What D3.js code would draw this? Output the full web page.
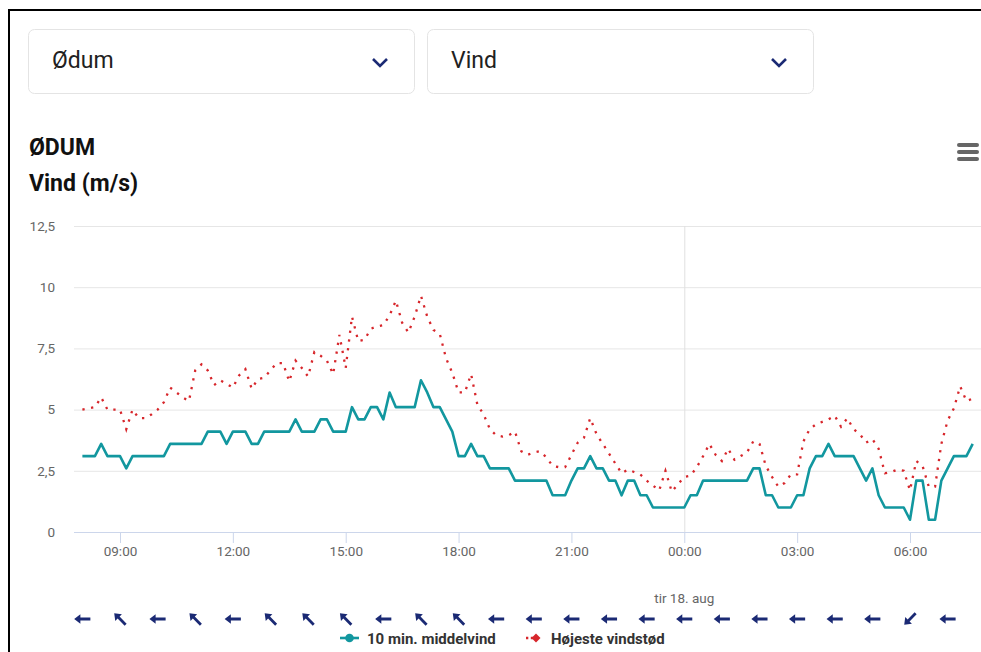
<!DOCTYPE html>
<html>
<head>
<meta charset="utf-8">
<script src="https://cdn.jsdelivr.net/npm/d3@7"></script>
<style>
  body { margin: 0; background: #fff; font-family: Roboto, "Noto Sans", sans-serif; }
</style>
</head>
<body>
<svg width="981" height="652"></svg>
<script>
// 10 min. middelvind, m/s, every 10 minutes from 08:00
const meanWind = [
  3.1,3.1,3.1,3.6,3.1,3.1,3.1,2.6,3.1,3.1,
  3.1,3.1,3.1,3.1,3.6,3.6,3.6,3.6,3.6,3.6,
  4.1,4.1,4.1,3.6,4.1,4.1,4.1,3.6,3.6,4.1,
  4.1,4.1,4.1,4.1,4.6,4.1,4.1,4.1,4.6,4.6,
  4.1,4.1,4.1,5.1,4.6,4.6,5.1,5.1,4.6,5.7,
  5.1,5.1,5.1,5.1,6.2,5.7,5.1,5.1,4.6,4.1,
  3.1,3.1,3.6,3.1,3.1,2.6,2.6,2.6,2.6,2.1,
  2.1,2.1,2.1,2.1,2.1,1.5,1.5,1.5,2.1,2.6,
  2.6,3.1,2.6,2.6,2.1,2.1,1.5,2.1,2.1,1.5,
  1.5,1.0,1.0,1.0,1.0,1.0,1.0,1.5,1.5,2.1,
  2.1,2.1,2.1,2.1,2.1,2.1,2.1,2.6,2.6,1.5,
  1.5,1.0,1.0,1.0,1.5,1.5,2.6,3.1,3.1,3.6,
  3.1,3.1,3.1,3.1,2.6,2.1,2.6,1.5,1.0,1.0,
  1.0,1.0,0.5,2.1,2.1,0.5,0.5,2.1,2.6,3.1,
  3.1,3.1,3.6
];

// Højeste vindstød, m/s
const gustWind = [
  5.0,5.05,5.1,5.5,5.0,5.0,5.0,4.2,5.0,4.65,
  4.65,4.8,5.0,5.3,5.9,5.7,5.5,5.35,6.6,6.85,
  6.6,6.0,6.2,6.05,5.9,6.4,6.65,5.85,6.25,6.3,
  6.6,6.9,6.9,6.15,7.0,6.7,6.35,7.35,7.2,7.0,
  6.45,8.05,6.7,8.8,7.8,7.85,8.3,8.4,8.45,8.85,
  9.45,8.55,8.15,8.8,9.65,8.8,8.25,8.1,7.1,6.5,
  5.7,5.7,6.45,5.2,4.8,4.2,3.95,3.9,3.95,4.1,
  3.3,3.15,3.25,3.3,3.05,2.7,2.65,2.65,3.15,3.65,
  3.85,4.65,4.0,3.6,3.2,2.8,2.4,2.55,2.45,2.35,
  2.1,1.9,1.7,2.5,1.65,1.95,2.25,2.3,2.65,3.1,
  3.6,3.15,2.9,3.4,2.95,3.1,3.25,3.7,3.6,2.7,
  2.25,1.85,2.0,2.35,2.35,3.7,4.2,4.4,4.5,4.6,
  4.75,4.3,4.65,4.2,4.0,3.65,3.8,3.4,2.4,2.45,
  2.55,2.5,1.7,2.9,2.7,1.85,1.85,3.6,4.55,5.05,
  5.95,5.35,5.45
];

// wind direction (degrees, from) each hour 08:00 .. 07:00
const windDir = [90,135,90,135,90,135,135,135,90,135,135,90,
                 90,90,90,90,90,90,90,90,90,90,45,90];

const yTicks = [0, 2.5, 5, 7.5, 10, 12.5];
const selectors = ["Ødum", "Vind"];
const titleLines = ["ØDUM", "Vind (m/s)"];
const seriesNames = ["10 min. middelvind", "Højeste vindstød"];
const dateLabel = "tir 18. aug";

const start = new Date(2020, 7, 17, 8, 0);
const timeAt = i => new Date(start.getTime() + i * 10 * 60000);

const teal = "#12979f", red = "#d7262b", navy = "#1b2a74";

const svg = d3.select("svg");

// frame
svg.append("path").attr("d", "M9,652V10H981").attr("fill", "none")
  .attr("stroke", "#000").attr("stroke-width", 2);

// dropdowns
selectors.forEach((s, k) => {
  const bx = 28 + k * 399;
  svg.append("rect").attr("x", bx + 0.5).attr("y", 29.5).attr("width", 386).attr("height", 64)
    .attr("rx", 6).attr("fill", "#fff").attr("stroke", "#e4e4e4");
  svg.append("text").attr("x", bx + 24).attr("y", 68).text(s)
    .attr("font-size", 23).attr("fill", "#212121");
  svg.append("path").attr("d", `M${bx + 345},${59}l7,7l7,-7`).attr("fill", "none")
    .attr("stroke", navy).attr("stroke-width", 2.6);
});

// titles
titleLines.forEach((t, k) => {
  svg.append("text").attr("x", 29).attr("y", 155 + k * 36).text(t)
    .attr("font-size", 23).attr("font-weight", "bold").attr("fill", "#111");
});

// menu icon
[143, 150, 157].forEach(yy => {
  svg.append("rect").attr("x", 957).attr("y", yy).attr("width", 22).attr("height", 4)
    .attr("rx", 2).attr("fill", "#666");
});

// scales
const x = d3.scaleTime()
  .domain([new Date(2020, 7, 17, 9), new Date(2020, 7, 18, 6)])
  .range([120, 910]);
const y = d3.scaleLinear().domain([0, 12.5]).range([532, 226]);
const plotLeft = 74, plotRight = 981;

const fmt = d3.formatLocale({decimal: ",", thousands: ".", grouping: [3], currency: ["", ""]}).format("~g");

// y grid + labels
const yAxis = svg.append("g").attr("transform", `translate(${plotLeft},0)`)
  .call(d3.axisLeft(y).tickValues(yTicks).tickFormat(fmt)
    .tickSize(-(plotRight - plotLeft)).tickPadding(19));
yAxis.select(".domain").remove();
yAxis.selectAll("line").attr("stroke", "#e6e6e6");
yAxis.selectAll("text").attr("fill", "#666").attr("font-size", 13.5)
  .attr("font-family", "Roboto, sans-serif");

// midnight line
svg.append("line").attr("x1", x(new Date(2020, 7, 18, 0)) + 0.5).attr("x2", x(new Date(2020, 7, 18, 0)) + 0.5)
  .attr("y1", 226).attr("y2", 532).attr("stroke", "#e0e0e0");

// x axis
svg.append("line").attr("x1", plotLeft).attr("x2", plotRight).attr("y1", 532.5).attr("y2", 532.5)
  .attr("stroke", "#ccd6eb");
const xAxis = svg.append("g").attr("transform", "translate(0,532)")
  .call(d3.axisBottom(x).ticks(d3.timeHour.every(3)).tickFormat(d3.timeFormat("%H:%M"))
    .tickSize(11).tickPadding(3));
xAxis.select(".domain").remove();
xAxis.selectAll("line").attr("stroke", "#ccd6eb");
xAxis.selectAll("text").attr("fill", "#666").attr("font-size", 13.5)
  .attr("font-family", "Roboto, sans-serif");

svg.append("text").attr("x", x(new Date(2020, 7, 18, 0))).attr("y", 603).attr("text-anchor", "middle")
  .attr("fill", "#666").attr("font-size", 13.5).text(dateLabel);

// series
const line = d3.line().x((d, i) => x(timeAt(i))).y(d => y(d));

svg.append("path").datum(gustWind).attr("d", line).attr("fill", "none")
  .attr("stroke", red).attr("stroke-width", 2.3).attr("stroke-dasharray", "2.3,6.5");

svg.append("path").datum(meanWind).attr("d", line).attr("fill", "none")
  .attr("stroke", teal).attr("stroke-width", 2.6).attr("stroke-linejoin", "round");

// wind direction arrows
const arrow = "M-1.4,8V-2H-4.7L0,-8.2L4.7,-2H1.4V8Z";
windDir.forEach((dir, i) => {
  const t = new Date(start.getTime() + i * 3600000);
  svg.append("path").attr("d", arrow).attr("fill", navy)
    .attr("transform", `translate(${x(t)},619) rotate(${dir + 180})`);
});

// legend
const lg = svg.append("g");
lg.append("line").attr("x1", 340).attr("x2", 359).attr("y1", 638).attr("y2", 638)
  .attr("stroke", teal).attr("stroke-width", 2.6);
lg.append("circle").attr("cx", 349.5).attr("cy", 638).attr("r", 4.3).attr("fill", teal);
lg.append("text").attr("x", 367).attr("y", 643.5).text(seriesNames[0])
  .attr("font-size", 15).attr("font-weight", "bold").attr("fill", "#333");

lg.append("line").attr("x1", 526).attr("x2", 536).attr("y1", 638).attr("y2", 638)
  .attr("stroke", red).attr("stroke-width", 2.3).attr("stroke-dasharray", "2.3,2.5");
lg.append("path").attr("d", "M536,633.5L540.5,638L536,642.5L531.5,638Z").attr("fill", red);
lg.append("text").attr("x", 551).attr("y", 643.5).text(seriesNames[1])
  .attr("font-size", 15).attr("font-weight", "bold").attr("fill", "#333");
</script>
</body>
</html>
